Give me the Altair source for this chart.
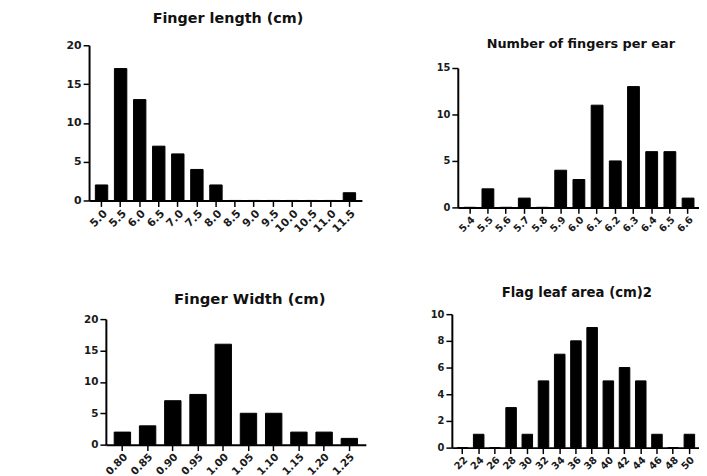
import altair as alt
import pandas as pd

# ---- data ----
fl_cats = ["5.0", "5.5", "6.0", "6.5", "7.0", "7.5", "8.0", "8.5", "9.0", "9.5", "10.0", "10.5", "11.0", "11.5"]
fl_vals = [2, 17, 13, 7, 6, 4, 2, 0, 0, 0, 0, 0, 0, 1]

nf_cats = ["5.4", "5.5", "5.6", "5.7", "5.8", "5.9", "6.0", "6.1", "6.2", "6.3", "6.4", "6.5", "6.6"]
nf_vals = [0, 2, 0, 1, 0, 4, 3, 11, 5, 13, 6, 6, 1]

fw_cats = ["0.80", "0.85", "0.90", "0.95", "1.00", "1.05", "1.10", "1.15", "1.20", "1.25"]
fw_vals = [2, 3, 7, 8, 16, 5, 5, 2, 2, 1]

la_cats = ["22", "24", "26", "28", "30", "32", "34", "36", "38", "40", "42", "44", "46", "48", "50"]
la_vals = [0, 1, 0, 3, 1, 5, 7, 8, 9, 5, 6, 5, 1, 0, 1]

titles = ["Finger length (cm)", "Number of fingers per ear", "Finger Width (cm)", "Flag leaf area (cm)2"]
y_max = [20, 15, 20, 10]
y_step = [5, 5, 5, 2]

# ---- layout (view coordinates) ----
W, H = 699, 468
FONT = "DejaVu Sans"


def panel(cats, vals, title, ymax, ystep, x0, x1, ybot, ytop, tx, ty, lab_size, title_size):
    df = pd.DataFrame({"bin": cats, "count": vals})
    common = dict(
        grid=False,
        domainColor="black",
        domainWidth=2,
        tickColor="black",
        tickWidth=1.5,
        tickSize=6,
        labelFont=FONT,
        labelFontWeight="bold",
        labelColor="#1a1a1a",
        labelFontSize=lab_size,
    )
    return alt.Chart(df).mark_bar(color="black", stroke="black", strokeWidth=1).encode(
        x=alt.X(
            "bin:N",
            sort=cats,
            scale=alt.Scale(range=[x0, x1], paddingInner=0.35, paddingOuter=0.33),
            axis=alt.Axis(orient="bottom", offset=ybot - H, labelAngle=315, labelPadding=1,
                          title=None, **common),
        ),
        y=alt.Y(
            "count:Q",
            scale=alt.Scale(domain=[0, ymax], range=[ybot, ytop], nice=False),
            axis=alt.Axis(
                orient="left", offset=-x0, values=list(range(0, ymax + 1, ystep)),
                labelPadding=2, title=title, titleAngle=0, titleX=tx - x0, titleY=ty,
                titleAlign="center", titleBaseline="middle", titleFont=FONT,
                titleFontWeight="bold", titleFontSize=title_size, titleColor="#111111",
                **common,
            ),
        ),
    )


p1 = panel(fl_cats, fl_vals, titles[0], y_max[0], y_step[0], 82, 358, 192, 35, 222, 8, 11, 14.5)
p2 = panel(nf_cats, nf_vals, titles[1], y_max[1], y_step[1], 455, 700, 199, 58, 579, 33, 10, 13)
p3 = panel(fw_cats, fw_vals, titles[2], y_max[2], y_step[2], 99, 362, 439, 312, 244, 291, 10.5, 15)
p4 = panel(la_cats, la_vals, titles[3], y_max[3], y_step[3], 449, 700, 442, 307, 575, 285, 10, 13.4)

chart = (
    alt.layer(p1, p2, p3, p4)
    .resolve_scale(x="independent", y="independent")
    .properties(width=W, height=H, padding=0, autosize=alt.AutoSizeParams(type="none"))
    .configure_view(strokeWidth=0)
)

chart.save("out.html", embed_options={"renderer": "svg", "actions": False})
